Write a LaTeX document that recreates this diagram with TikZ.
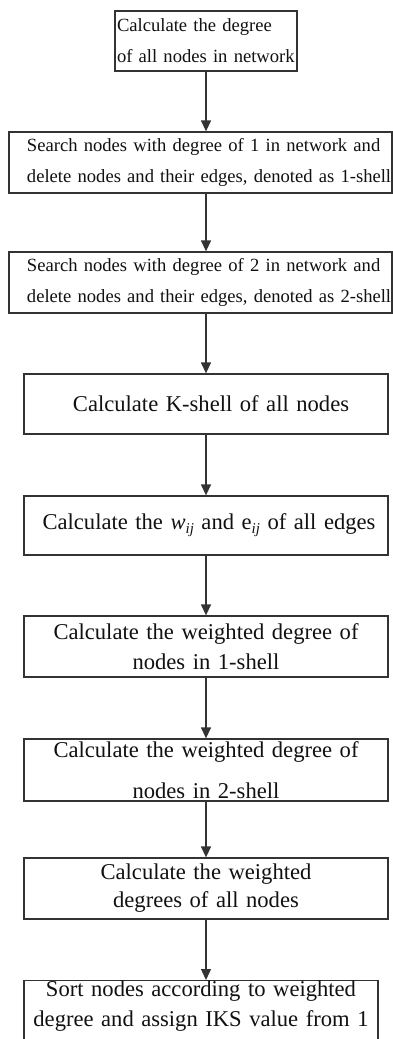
\documentclass[tikz,border=0pt]{standalone}
\usepackage{fontspec}
\setmainfont{Liberation Serif}
\usetikzlibrary{arrows.meta, positioning}
\definecolor{linecol}{HTML}{333333}
\definecolor{textcol}{HTML}{111111}
\tikzset{
  rnode/.style={rectangle, draw=linecol, line width=1.3pt, text=textcol, align=left,
                font=\fontsize{18.6}{31}\selectfont, inner xsep=18pt, inner ysep=0pt},
  cnode/.style={rectangle, draw=linecol, line width=1.3pt, text=textcol, align=center,
                font=\fontsize{22.6}{30}\selectfont, inner xsep=4pt, inner ysep=0pt},
  flow/.style={->, draw=linecol, line width=1.3pt},
}

\begin{document}
\begin{tikzpicture}[x=1pt, y=-1pt, >={Triangle[length=11pt, width=10pt]}]
  \clip (0,0) rectangle (393,1039);
  \fill[white] (0,0) rectangle (393,1039);
  % degree and the two shell removals
  \node[rnode, inner xsep=2pt, text width=178pt, minimum height=60pt] (deg) at (206,41)
    {\mbox{Calculate the degree}\\\mbox{of all nodes in network}};
  \node[rnode, text width=347pt, minimum height=61pt] (one) at (200.5,162.5)
    {\mbox{Search nodes with degree of 1 in network and}\\
     \mbox{delete nodes and their edges, denoted as 1-shell}};
  \node[rnode, text width=347pt, minimum height=61pt] (two) at (200.5,282.5)
    {\mbox{Search nodes with degree of 2 in network and}\\
     \mbox{delete nodes and their edges, denoted as 2-shell}};
  % calculation steps
  \node[cnode, text width=356pt, minimum height=60pt] (ks) at (206,404)
    {\hspace*{10pt}Calculate K-shell of all nodes};
  \node[cnode, text width=356pt, minimum height=59pt] (we) at (206,525.5)
    {\hspace*{6pt}Calculate the \textit{w}\raisebox{-4pt}{\fontsize{15}{15}\selectfont\textit{ij}}
     and e\raisebox{-4pt}{\fontsize{15}{15}\selectfont\textit{ij}} of all edges};
  \node[cnode, text width=356pt, minimum height=61pt] (wd1) at (206,646.5)
    {Calculate the weighted degree of\\nodes in 1-shell};
  \node[cnode, text width=356pt, minimum height=62pt,
        font=\fontsize{22.6}{41}\selectfont] (wd2) at (206,770)
    {Calculate the weighted degree of\\nodes in 2-shell};
  \node[cnode, text width=356pt, minimum height=61pt,
        font=\fontsize{22.6}{28}\selectfont] (wall) at (206,888.5)
    {Calculate the weighted\\degrees of all nodes};
  % last box runs past the bottom edge
  \node[cnode, text width=346pt, anchor=north, text depth=45pt] (iks) at (201,980)
    {Sort nodes according to weighted\\degree and assign IKS value from 1};
  \draw[flow] (deg.south) -- (deg.south |- one.north);
  \draw[flow] (deg.south |- one.south) -- (deg.south |- two.north);
  \draw[flow] (deg.south |- two.south) -- (deg.south |- ks.north);
  \draw[flow] (ks) -- (we);
  \draw[flow] (we) -- (wd1);
  \draw[flow] (wd1) -- (wd2);
  \draw[flow] (wd2) -- (wall);
  \draw[flow] (wall.south) -- (wall.south |- iks.north);
\end{tikzpicture}
\end{document}
